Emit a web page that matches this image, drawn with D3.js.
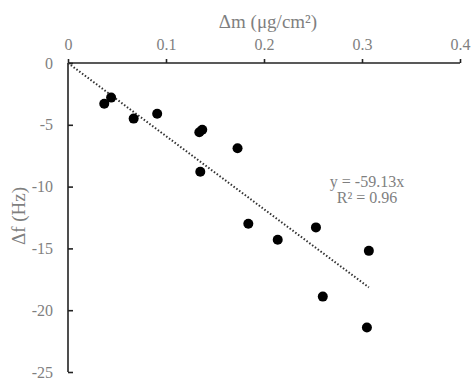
<!DOCTYPE html>
<html>
<head>
<meta charset="utf-8">
<script src="https://cdn.jsdelivr.net/npm/d3@7"></script>
<style>
  body { margin: 0; background: #fff; }
  text { font-family: "Liberation Serif", "Times New Roman", serif; fill: #7f7f7f; }
</style>
</head>
<body>
<figure id="scatter" style="margin:0"></figure>
<script>
// values
const massChange = [0.037, 0.044, 0.067, 0.091, 0.134, 0.137, 0.173, 0.135, 0.184, 0.214, 0.253, 0.307, 0.260, 0.305];
const freqChange = [-3.3, -2.8, -4.5, -4.1, -5.6, -5.4, -6.9, -8.8, -13.0, -14.3, -13.3, -15.2, -18.9, -21.4];
const xTicks = [0, 0.1, 0.2, 0.3, 0.4];
const yTicks = [0, -5, -10, -15, -20, -25];
const slope = -59.13;
const eqLines = ["y = -59.13x", "R² = 0.96"];

const width = 472, height = 381;
const margin = {top: 63, right: 12, bottom: 9, left: 68};

const x = d3.scaleLinear().domain([0, 0.4]).range([margin.left, width - margin.right]);
const y = d3.scaleLinear().domain([0, -25]).range([margin.top, height - margin.bottom]);

const svg = d3.select("figure#scatter")
  .append("svg")
  .attr("width", width)
  .attr("height", height);

// x axis on top
const xAxis = svg.append("g")
  .attr("transform", "translate(0," + y(0) + ")")
  .call(d3.axisTop(x).tickValues(xTicks).tickFormat(d => String(d)).tickSize(4).tickPadding(9));

// y axis, ticks pointing into the plot
const yAxis = svg.append("g")
  .attr("transform", "translate(" + x(0) + ",0)")
  .call(d3.axisLeft(y).tickValues(yTicks).tickFormat(d => String(d)).tickSize(-5).tickPadding(15));

[xAxis, yAxis].forEach(g => {
  g.attr("font-family", null);
  g.select(".domain").attr("stroke", "#222").attr("stroke-width", 1.6);
  g.selectAll(".tick line").attr("stroke", "#222").attr("stroke-width", 1.6);
  g.selectAll(".tick text")
    .style("font-family", "'Liberation Serif', serif")
    .style("font-size", "16px")
    .attr("fill", "#7f7f7f");
});
xAxis.select(".domain").attr("d", "M" + x(0) + ",0H" + x(0.4));
yAxis.select(".domain").attr("d", "M0," + y(0) + "V" + y(-25));

// linear trendline through origin
const xMax = d3.max(massChange);
svg.append("line")
  .attr("x1", x(0)).attr("y1", y(0))
  .attr("x2", x(xMax)).attr("y2", y(slope * xMax))
  .attr("stroke", "#333")
  .attr("stroke-width", 2)
  .attr("stroke-dasharray", "1.5,2");

svg.selectAll("circle")
  .data(massChange.map((m, i) => ({m: m, f: freqChange[i]})))
  .enter()
  .append("circle")
  .attr("cx", d => x(d.m))
  .attr("cy", d => y(d.f))
  .attr("r", 5)
  .attr("fill", "#000");

// axis titles
svg.append("text")
  .attr("x", 268).attr("y", 28)
  .attr("text-anchor", "middle")
  .style("font-size", "19px")
  .text("Δm (μg/cm²)");

svg.append("text")
  .attr("transform", "translate(25,216) rotate(-90)")
  .attr("text-anchor", "middle")
  .style("font-size", "19px")
  .text("Δf (Hz)");

// trendline equation
svg.append("g")
  .selectAll("text")
  .data(eqLines)
  .enter()
  .append("text")
  .attr("x", 367)
  .attr("y", (d, i) => 187 + i * 16)
  .attr("text-anchor", "middle")
  .style("font-size", "16px")
  .text(d => d);
</script>
</body>
</html>
